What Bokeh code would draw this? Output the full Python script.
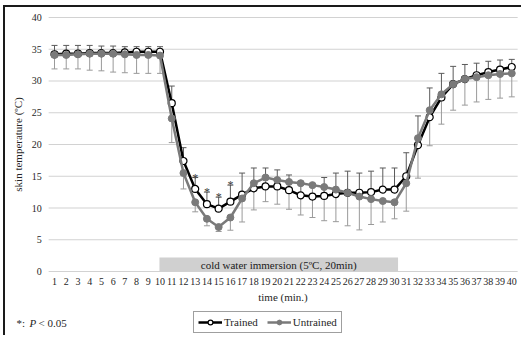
from bokeh.plotting import figure
from bokeh.models import (ColumnDataSource, Whisker, TeeHead, Legend, LegendItem,
                          Label, FixedTicker, Range1d)
from bokeh.core.properties import value
from bokeh.embed import file_html
from bokeh.resources import INLINE

# ---------------- data ----------------
minutes = list(range(1, 41))
x_tick_labels = [str(m) for m in minutes]

trained = [34.2, 34.3, 34.3, 34.4, 34.4, 34.4, 34.5, 34.6, 34.6, 34.6,
           26.5, 17.4, 13.0, 10.6, 9.9, 11.0, 12.1, 13.1, 13.4, 13.4,
           12.8, 12.0, 11.8, 11.9, 12.2, 12.4, 12.4, 12.5, 12.9, 12.9,
           15.0, 19.9, 24.3, 27.4, 29.5, 30.3, 30.9, 31.4, 31.8, 32.2]
trained_sd = [1.4, 1.3, 1.3, 1.2, 1.1, 1.1, 0.9, 0.8, 0.8, 0.8,
              2.7, 2.1, 1.8, 1.9, 1.8, 2.6, 3.4, 3.2, 2.9, 2.6,
              2.4, 2.2, 2.0, 2.9, 3.3, 3.4, 3.1, 3.3, 3.4, 3.4,
              3.7, 4.6, 4.6, 3.8, 2.8, 2.3, 1.9, 1.7, 1.5, 1.2]

untrained = [34.1, 34.1, 34.2, 34.3, 34.3, 34.3, 34.2, 34.1, 34.1, 34.0,
             24.1, 15.5, 10.9, 8.3, 7.0, 8.5, 11.5, 13.9, 14.8, 14.4,
             14.1, 13.9, 13.6, 13.3, 12.9, 12.4, 11.8, 11.4, 11.1, 10.9,
             13.9, 21.0, 25.4, 27.9, 29.5, 30.3, 30.6, 30.9, 31.1, 31.2]
untrained_sd = [2.2, 2.2, 2.3, 2.6, 2.7, 2.9, 2.9, 2.9, 2.9, 2.8,
                3.8, 2.5, 1.5, 1.1, 0.7, 2.0, 3.7, 4.2, 3.8, 3.8,
                4.3, 5.0, 5.1, 5.3, 5.05, 5.2, 5.25, 4.0, 3.3, 2.6,
                4.4, 6.3, 5.6, 4.7, 4.1, 4.1, 3.9, 3.8, 3.8, 3.7]

significant_minutes = [13, 14, 15, 16]

immersion_start = 9.95
immersion_end = 30.3
immersion_band_top = 2.2
immersion_text = "cold water immersion (5\u00baC, 20min)"

y_ticks = [0, 5, 10, 15, 20, 25, 30, 35, 40]
x_lo, x_hi = 0.5, 40.5
y_lo, y_hi = 0, 40

FONT = "Liberation Serif"
TXT = "#262626"

# ---------------- figure ----------------
# the frame covers the whole canvas; axes are pinned inside it
p = figure(width=518, height=330, output_backend="svg", toolbar_location=None,
           x_range=Range1d(-3.18, 41.0), y_range=Range1d(-10.39, 41.57),
           min_border=0, min_border_left=0, min_border_right=0,
           min_border_top=0, min_border_bottom=0)
p.styles = {"border-left": "2px solid #1a1a1a", "border-top": "2px solid #1a1a1a",
            "margin-left": "3px", "margin-top": "5px"}
p.outline_line_color = None
p.background_fill_color = "white"
p.border_fill_color = "white"
p.xgrid.visible = False
p.ygrid.visible = False

# horizontal gridlines over the plotting area (thin filled bars, ~1px tall)
p.hbar(y=y_ticks, left=x_lo, right=x_hi, height=0.17,
       fill_color="#d2d2d2", line_color=None, level="underlay")

for ax in (p.xaxis[0], p.yaxis[0]):
    ax.axis_line_color = None
    ax.major_tick_line_color = None
    ax.minor_tick_line_color = None
    ax.major_tick_out = 0
    ax.major_tick_in = 0
    ax.major_label_text_font = FONT
    ax.major_label_text_font_size = "10px"
    ax.major_label_text_color = TXT
    ax.axis_label_text_font = FONT
    ax.axis_label_text_font_size = "11px"
    ax.axis_label_text_font_style = "normal"
    ax.axis_label_text_color = TXT

p.xaxis.fixed_location = y_lo
p.xaxis.bounds = (x_lo, x_hi)
p.xaxis.ticker = FixedTicker(ticks=minutes)
p.xaxis.major_label_overrides = {m: lab for m, lab in zip(minutes, x_tick_labels)}
p.xaxis.major_label_standoff = 6
p.xaxis.axis_label = "time (min.)"
p.xaxis.axis_label_standoff = 3

p.yaxis.fixed_location = x_lo
p.yaxis.bounds = (y_lo, y_hi)
p.yaxis.ticker = FixedTicker(ticks=y_ticks)
p.yaxis.major_label_standoff = 7
p.yaxis.axis_label = "skin temperature (\u00baC)"
p.yaxis.axis_label_standoff = 5

# immersion band
p.quad(left=[immersion_start], right=[immersion_end], bottom=[0],
       top=[immersion_band_top], fill_color="#d0d0d0", line_color=None)
p.text(x=[(immersion_start + immersion_end) / 2], y=[immersion_band_top / 2],
       text=[immersion_text], text_font=value(FONT), text_font_size="11px",
       text_color="#1a1a1a", text_align="center", text_baseline="middle")

# error bars: trained upwards, untrained downwards
t_up = [m + s for m, s in zip(trained, trained_sd)]
u_lo = [m - s for m, s in zip(untrained, untrained_sd)]
src_te = ColumnDataSource(dict(base=minutes, lower=trained, upper=t_up))
src_ue = ColumnDataSource(dict(base=minutes, lower=u_lo, upper=untrained))
w_t = Whisker(source=src_te, base="base", lower="lower", upper="upper",
              line_color="#5a5a5a", line_width=1, lower_head=None,
              upper_head=TeeHead(size=6, line_color="#5a5a5a", line_width=1),
              level="underlay")
w_u = Whisker(source=src_ue, base="base", lower="lower", upper="upper",
              line_color="#9a9a9a", line_width=1, upper_head=None,
              lower_head=TeeHead(size=6, line_color="#9a9a9a", line_width=1),
              level="underlay")
p.add_layout(w_t)
p.add_layout(w_u)

# series
src = ColumnDataSource(dict(x=minutes, t=trained, u=untrained))
lt = p.line("x", "t", source=src, line_color="#000000", line_width=2.5)
st = p.scatter("x", "t", source=src, size=7, fill_color="white",
               line_color="#000000", line_width=1.2)
lu = p.line("x", "u", source=src, line_color="#7a7a7a", line_width=2.5)
su = p.scatter("x", "u", source=src, size=7, fill_color="#7a7a7a",
               line_color="#7a7a7a")

# significance asterisks
sig_y = [t_up[m - 1] for m in significant_minutes]
p.text(x=significant_minutes, y=sig_y, text=["*"] * len(significant_minutes),
       text_font=value(FONT), text_font_size="12px", text_color="#404040",
       text_align="center", text_baseline="alphabetic")

# legend (inside the frame, under the axis)
legend = Legend(items=[LegendItem(label="Trained", renderers=[lt, st]),
                       LegendItem(label="Untrained", renderers=[lu, su])],
                orientation="horizontal", location=(188, 4),
                label_text_font=FONT, label_text_font_size="11px",
                label_text_color=TXT, glyph_width=24, glyph_height=12,
                label_standoff=2, spacing=9, padding=4, margin=0,
                border_line_color="#404040", border_line_width=1,
                background_fill_color="white", background_fill_alpha=1)
legend.label_height = 12
p.add_layout(legend, "center")

# footnote "*: P < 0.05"
note_x = -2.24
note_y = -8.03
for txt, dx, style in (("*:", 0, "normal"), ("P", 13, "italic"), ("< 0.05", 22, "normal")):
    p.add_layout(Label(x=note_x, y=note_y, x_offset=dx, text=txt,
                       text_font=FONT, text_font_size="11px", text_font_style=style,
                       text_color=TXT, text_baseline="middle", text_align="left"))

open("out.html", "w").write(file_html(p, INLINE))
